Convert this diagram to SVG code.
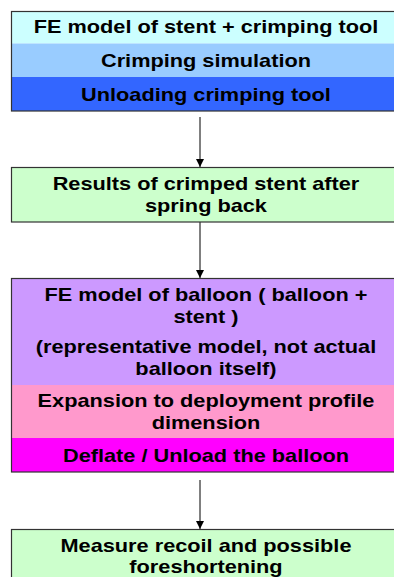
<svg xmlns="http://www.w3.org/2000/svg" width="394" height="577" viewBox="0 0 394 577">
<style>
.box{stroke:#333;stroke-width:1.2}
.row{stroke:none}
.t{font-family:"Liberation Sans",Arial,sans-serif;font-weight:bold;font-size:18.5px;fill:#000;text-anchor:middle}
.c{stroke:#000;stroke-width:1;fill:none}
</style>
<defs>
<marker id="ah" viewBox="0 0 8 8" refX="8" refY="4" markerWidth="8" markerHeight="8" markerUnits="userSpaceOnUse" orient="auto">
<path d="M0,0 L8,4 L0,8 Z" fill="#000"/>
</marker>
</defs>
<rect width="394" height="577" fill="#fff"/>
<g id="connectors">
<line class="c" x1="200" y1="117" x2="200" y2="167" marker-end="url(#ah)"/>
<line class="c" x1="200" y1="222" x2="200" y2="278" marker-end="url(#ah)"/>
<line class="c" x1="200" y1="480" x2="200" y2="529" marker-end="url(#ah)"/>
</g>
<g id="node-crimping">
<rect class="row" x="11" y="11" width="390" height="32.5" fill="#CCFFFF"/>
<rect class="row" x="11" y="43.5" width="390" height="33.5" fill="#99CCFF"/>
<rect class="row" x="11" y="77" width="390" height="34" fill="#3366FF"/>
<rect class="box" x="11.5" y="11.5" width="390" height="99.5" fill="none"/>
<g transform="matrix(1.175 0 0 1 -36.05 0)">
<text class="t" x="206" y="33">FE model of stent + crimping tool</text>
<text class="t" x="206" y="67">Crimping simulation</text>
<text class="t" x="206" y="101">Unloading crimping tool</text>
</g>
</g>
<g id="node-results">
<rect class="box" x="11.5" y="167.5" width="390" height="54.5" fill="#CCFFCC"/>
<g transform="matrix(1.175 0 0 1 -36.05 0)">
<text class="t" x="206" y="190.4">Results of crimped stent after</text>
<text class="t" x="206" y="211.9">spring back</text>
</g>
</g>
<g id="node-balloon">
<rect class="row" x="11" y="278" width="390" height="107" fill="#CC99FF"/>
<rect class="row" x="11" y="385" width="390" height="53" fill="#FF99CC"/>
<rect class="row" x="11" y="438" width="390" height="34" fill="#FF00FF"/>
<rect class="box" x="11.5" y="278.5" width="390" height="193.5" fill="none"/>
<g transform="matrix(1.175 0 0 1 -36.05 0)">
<text class="t" x="206" y="301.5">FE model of balloon ( balloon +</text>
<text class="t" x="206" y="323">stent )</text>
<text class="t" x="206" y="353.5">(representative model, not actual</text>
<text class="t" x="206" y="375">balloon itself)</text>
<text class="t" x="206" y="407.4">Expansion to deployment profile</text>
<text class="t" x="206" y="428.9">dimension</text>
<text class="t" x="206" y="461.6">Deflate / Unload the balloon</text>
</g>
</g>
<g id="node-measure">
<rect class="box" x="11.5" y="529.5" width="390" height="60" fill="#CCFFCC"/>
<g transform="matrix(1.175 0 0 1 -36.05 0)">
<text class="t" x="206" y="552">Measure recoil and possible</text>
<text class="t" x="206" y="573.5">foreshortening</text>
</g>
</g>
</svg>
